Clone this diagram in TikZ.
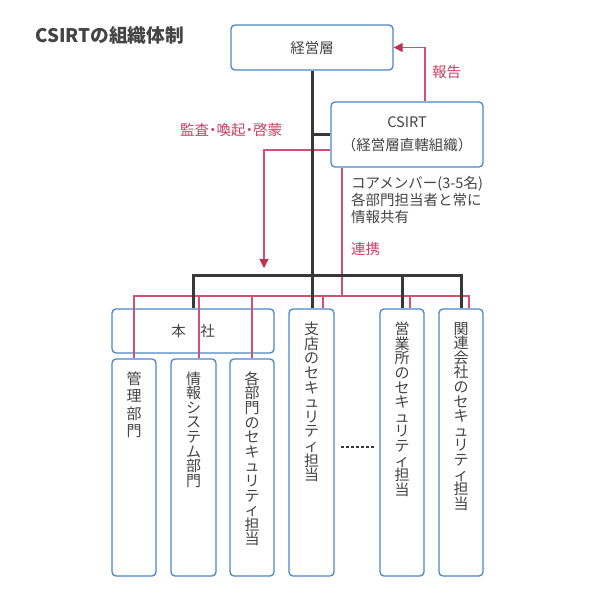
\documentclass[tikz,border=0pt]{standalone}
\usepackage{fontspec}
\setmainfont{Noto Sans CJK JP}
\usetikzlibrary{arrows.meta, positioning}
\definecolor{boxblue}{HTML}{4A86C5}
\definecolor{linkred}{HTML}{D25173}
\definecolor{tipred}{HTML}{C2314F}
\definecolor{labelred}{HTML}{C83E64}
\definecolor{textgray}{HTML}{444444}
\definecolor{barblack}{HTML}{383838}

\begin{document}
\begin{tikzpicture}[x=1pt, y=-1pt,
    box/.style={rectangle, rounded corners=4pt, draw=boxblue, line width=1.3pt, fill=white, inner sep=0pt, text=textgray, font=\fontsize{14.5}{23}\selectfont},
    tate/.style={inner sep=0pt, align=center, text=textgray, font=\fontsize{15}{14.6}\selectfont},
    lbl/.style={inner sep=0pt, text=labelred, font=\fontsize{14.5}{17}\selectfont},
    note/.style={inner sep=0pt, text=textgray, align=left, font=\fontsize{14.5}{17}\selectfont},
    org/.style={draw=barblack, line width=3pt},
    redline/.style={draw=linkred, line width=1.3pt},
    tip/.style={-{Triangle[length=9pt, width=9pt, color=tipred]}},
]
\useasboundingbox (0,0) rectangle (600,601);

\node[inner sep=0pt, anchor=west, text=textgray, font=\fontsize{18.7}{22}\selectfont\bfseries] (title) at (35,35) {CSIRTの組織体制};

\node[box, minimum width=162pt, minimum height=45pt] (keiei) at (312,47.5) {経営層};
\node[box, minimum width=152pt, minimum height=65pt, align=center] (csirt) at (407,134.5) {CSIRT\\（経営層直轄組織）};
\node[box, minimum width=162pt, minimum height=44pt] (honsha) at (193,331) {本　社};

\node[box, minimum width=44pt, minimum height=217pt] (kanri) at (134,467.5) {};
\node[box, minimum width=45pt, minimum height=217pt] (joho) at (193.5,467.5) {};
\node[box, minimum width=44pt, minimum height=217pt] (kakubu) at (252,467.5) {};
\node[box, minimum width=45pt, minimum height=267pt] (shiten) at (311.5,442.5) {};
\node[box, minimum width=44pt, minimum height=267pt] (eigyo) at (402,442.5) {};
\node[box, minimum width=44pt, minimum height=267pt] (kanren) at (461,442.5) {};

\node[tate, below=13pt of kanri.north, font=\fontsize{15}{17.5}\selectfont] (kanri-t) {管\\理\\部\\門};
\node[tate, below=13pt of joho.north] (joho-t) {情\\報\\シ\\ス\\テ\\ム\\部\\門};
\node[tate, below=13pt of kakubu.north] (kakubu-t) {各\\部\\門\\の\\セ\\キ\\ュ\\リ\\テ\\ィ\\担\\当};
\node[tate, below=13.5pt of shiten.north] (shiten-t) {支\\店\\の\\セ\\キ\\ュ\\リ\\テ\\ィ\\担\\当};
\node[tate, below=13.5pt of eigyo.north] (eigyo-t) {営\\業\\所\\の\\セ\\キ\\ュ\\リ\\テ\\ィ\\担\\当};
\node[tate, below=13.5pt of kanren.north] (kanren-t) {関\\連\\会\\社\\の\\セ\\キ\\ュ\\リ\\テ\\ィ\\担\\当};

\node[lbl] (kansa-l) at (231,130) {監査\kern-3.5pt・\kern-3.5pt喚起\kern-3.5pt・\kern-3.5pt啓蒙};
\node[lbl, anchor=west] (hokoku-l) at (432,72) {報告};
\node[lbl, anchor=west] (renkei-l) at (351,249) {連携};
\node[note, anchor=north west] (core) at (351,176) {コアメンバー(3-5名)\\各部門担当者と常に\\情報共有};

\coordinate (kansa) at (264,268);
\coordinate (rbar) at (342,296);
\coordinate (bar) at (312,275);

\draw[redline, tip] ([xshift=18pt]csirt.north) |- (keiei.east);
\draw[redline, tip] ([yshift=-15.5pt]csirt.west) -| (kansa);
\draw[redline] ([xshift=-65pt]csirt.south) -- (rbar);
\draw[redline] (kanri.north) |- (rbar);
\draw[redline] ([xshift=8pt]kanren.north) |- (rbar);
\foreach \n/\dx in {joho/5.5, kakubu/0, shiten/11.5, eigyo/8}
    \draw[redline] ([xshift=\dx pt]\n.north) -- ([xshift=\dx pt]\n.north |- rbar);

\draw[org] (keiei.south) -- (bar) -- (bar |- shiten.north);
\draw[org] (keiei.south |- csirt.west) -- (csirt.west);
\draw[org] (honsha.north) |- (bar -| kanren.north) -- (kanren.north);
\draw[org] (eigyo.north) -- (eigyo.north |- bar);

\draw[barblack, line width=2.4pt, dash pattern=on 2.4pt off 2.6pt] ([xshift=6.5pt, yshift=-4.5pt]shiten.east) -- ([xshift=-5pt, yshift=-4.5pt]eigyo.west);
\end{tikzpicture}
\end{document}
